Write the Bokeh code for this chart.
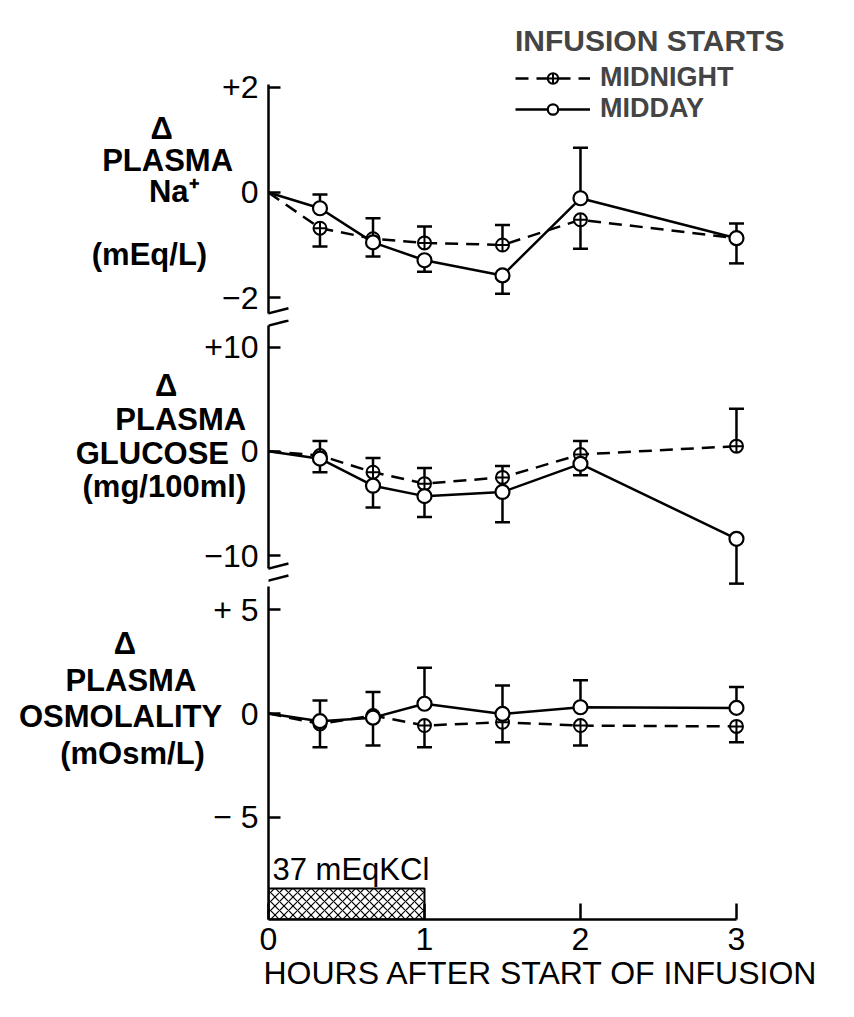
from bokeh.plotting import figure
from bokeh.models import (Range1d, FixedTicker, Label, Legend, LegendItem, Arrow, Title)
from bokeh.layouts import column
from bokeh.embed import file_html
from bokeh.resources import INLINE

# ---------------- data ----------------
hours = [0, 0.33, 0.67, 1, 1.5, 2, 3]

# plasma Na+ (mEq/L); sem sign = direction the error bar is drawn
na_midnight = [0, -0.68, -0.88, -0.96, -1.00, -0.52, -0.87]
na_midnight_sem = [0, -0.35, 0.39, 0.31, 0.38, -0.55, -0.48]
na_midday = [0, -0.30, -0.95, -1.29, -1.58, -0.11, -0.87]
na_midday_sem = [0, 0.26, -0.27, -0.22, -0.35, 0.96, 0.28]

# plasma glucose (mg/100ml)
glu_midnight = [0, -0.4, -2.0, -3.1, -2.5, -0.3, 0.5]
glu_midnight_sem = [0, 1.4, 1.36, 1.5, 1.1, 1.3, 3.6]
glu_midday = [0, -0.7, -3.3, -4.3, -3.9, -1.2, -8.4]
glu_midday_sem = [0, -1.3, -2.1, -2.0, -2.9, -1.1, -4.3]

# plasma osmolality (mOsm/L)
osm_midnight = [0, -0.50, -0.10, -0.58, -0.42, -0.58, -0.62]
osm_midnight_sem = [0, -1.12, -1.44, -1.04, -0.96, -0.96, -0.76]
osm_midday = [0, -0.37, -0.20, 0.47, -0.02, 0.30, 0.27]
osm_midday_sem = [0, 1.00, 1.23, 1.73, 1.37, 1.30, 1.00]

na_ticks = [-2, 0, 2]
na_tick_labels = ["\u22122", "0", "+2"]
glu_ticks = [-10, 0, 10]
glu_tick_labels = ["\u221210", "0", "+10"]
osm_ticks = [-5, 0, 5]
osm_tick_labels = ["\u2212 5", "0", "+ 5"]
hour_ticks = [0, 1, 2, 3]
hour_tick_labels = ["0", "1", "2", "3"]

na_title_lines = ["\u0394", "PLASMA", "Na\u207a", "(mEq/L)"]
glu_title_lines = ["\u0394", "PLASMA", "GLUCOSE", "(mg/100ml)"]
osm_title_lines = ["\u0394", "PLASMA", "OSMOLALITY", "(mOsm/L)"]

kcl_start, kcl_end = 0, 1
kcl_label = "37 mEqKCl"

FONT = "Liberation Sans"
W = 850
xr = Range1d(0, 3.731)
NB = "\u00a0"


def block(lines, pads, top_blank=0, bottom_blank=0, gap_before_last=False):
    """multi-line axis label: lines are right-aligned by Bokeh, so pad them
    with no-break spaces to centre them visually"""
    out = [NB] * top_blank
    for i, (ln, pd) in enumerate(zip(lines, pads)):
        if gap_before_last and i == len(lines) - 1:
            out.append(NB)
        out.append(ln + NB * pd)
    out += [NB] * bottom_blank
    return "\n".join(out)


def make_panel(height, yr, ticks, labels, bounds, title, standoff, lh, below=0):
    p = figure(width=W, height=height, x_range=xr, y_range=Range1d(*yr),
               output_backend="svg", toolbar_location=None,
               x_axis_location="below" if below else None,
               min_border=0, min_border_left=268, min_border_right=0,
               min_border_top=0, min_border_bottom=below)
    p.outline_line_color = None
    p.grid.visible = False
    p.background_fill_color = "white"
    ya = p.yaxis[0]
    ya.ticker = FixedTicker(ticks=ticks)
    ya.major_label_overrides = {t: l for t, l in zip(ticks, labels)}
    ya.major_tick_in = 12
    ya.major_tick_out = 0
    ya.minor_tick_line_color = None
    ya.major_tick_line_width = 2.5
    ya.axis_line_width = 2.5
    ya.bounds = bounds
    ya.major_label_standoff = 10
    ya.major_label_text_font = FONT
    ya.major_label_text_font_size = "32px"
    ya.major_label_text_color = "black"
    ya.axis_label = title
    ya.axis_label_orientation = "horizontal"
    ya.axis_label_standoff = standoff
    ya.axis_label_text_font = FONT
    ya.axis_label_text_font_size = "31px"
    ya.axis_label_text_font_style = "bold"
    ya.axis_label_text_color = "black"
    ya.axis_label_text_line_height = lh
    return p


def draw(p, mn, mn_sem, md, md_sem):
    l_mn = p.line(hours, mn, line_dash="13 8", line_width=2.5, color="black")
    l_md = p.line(hours, md, line_width=2.5, color="black")
    for vals, sem in ((mn, mn_sem), (md, md_sem)):
        xs = hours[1:]
        ys = vals[1:]
        ends = [v + s for v, s in zip(vals[1:], sem[1:])]
        p.segment(x0=xs, y0=ys, x1=xs, y1=ends, line_width=2.5, color="black")
        p.scatter(xs, ends, marker="dash", size=15, line_width=2.5, color="black")
    s_mn = p.scatter(hours[1:], mn[1:], marker="circle_cross", size=13, line_width=2,
                     line_color="black", fill_color="white")
    s_md = p.scatter(hours[1:], md[1:], marker="circle", size=14, line_width=2.2,
                     line_color="black", fill_color="white")
    return l_mn, s_mn, l_md, s_md


def slash(p, yc, d):
    p.add_layout(Arrow(x_start=-0.122, y_start=yc - d, x_end=0.128, y_end=yc + d,
                       end=None, line_width=2.5, line_color="black"))


# ---------------- top: Na+ ----------------
p1 = make_panel(319, (-2.419, 3.657), na_ticks, na_tick_labels, (-2.3, 2.05),
                block(na_title_lines, [7, 0, 4, 3], top_blank=2, gap_before_last=True),
                standoff=-14, lh=0.9)
l_mn, s_mn, l_md, s_md = draw(p1, na_midnight, na_midnight_sem, na_midday, na_midday_sem)
slash(p1, -2.3, 0.095)
legend = Legend(items=[LegendItem(label="MIDNIGHT", renderers=[l_mn, s_mn]),
                       LegendItem(label="MIDDAY", renderers=[l_md, s_md])],
                title="INFUSION STARTS", location=(247, 195),
                glyph_width=75, glyph_height=26, label_standoff=10, spacing=0,
                padding=0, margin=0, border_line_color=None, background_fill_alpha=0,
                label_text_font=FONT, label_text_font_size="27px", label_text_font_style="bold",
                title_text_font=FONT, title_text_font_size="30px", title_text_font_style="bold",
                title_standoff=4)
p1.add_layout(legend)

# ---------------- middle: glucose ----------------
p2 = make_panel(267, (-12.976, 12.66), glu_ticks, glu_tick_labels, (-11.25, 12.08),
                block(glu_title_lines, [8, 0, 2, 0], bottom_blank=1),
                standoff=-45, lh=0.96)
draw(p2, glu_midnight, glu_midnight_sem, glu_midday, glu_midday_sem)
slash(p2, 12.08, 0.48)
slash(p2, -11.25, 0.48)
slash(p2, -12.4, 0.48)

# ---------------- bottom: osmolality ----------------
p3 = make_panel(424, (-9.904, 6.106), osm_ticks, osm_tick_labels, (-9.904, 6.106),
                block(osm_title_lines, [10, 3, 0, 2], bottom_blank=3),
                standoff=-12, lh=1.04, below=91)
draw(p3, osm_midnight, osm_midnight_sem, osm_midday, osm_midday_sem)
bar_top = -8.41
p3.quad(left=[kcl_start], right=[kcl_end], bottom=[-9.904], top=[bar_top],
        fill_color="white", line_color="black", line_width=2,
        hatch_pattern="x", hatch_color="black", hatch_scale=9, hatch_weight=1.2)
p3.add_layout(Label(x=kcl_start, y=bar_top, x_offset=4, y_offset=1, text=kcl_label,
                    text_baseline="bottom", text_align="left", text_font=FONT,
                    text_font_size="31px", text_color="black"))
xa = p3.xaxis[0]
xa.ticker = FixedTicker(ticks=hour_ticks)
xa.major_label_overrides = {t: l for t, l in zip(hour_ticks, hour_tick_labels)}
xa.bounds = (0, 3)
xa.major_tick_in = 16
xa.major_tick_out = 0
xa.minor_tick_line_color = None
xa.major_tick_line_width = 2.5
xa.axis_line_width = 2.5
xa.major_label_standoff = 8
xa.major_label_text_font = FONT
xa.major_label_text_font_size = "32px"
xa.major_label_text_color = "black"
p3.add_layout(Title(text="HOURS AFTER START OF INFUSION", align="left", offset=-5,
                    standoff=0, text_font=FONT, text_font_size="32px",
                    text_font_style="normal", text_color="black"), "below")

layout = column(p1, p2, p3, spacing=0)
open("out.html", "w").write(file_html(layout, INLINE))
